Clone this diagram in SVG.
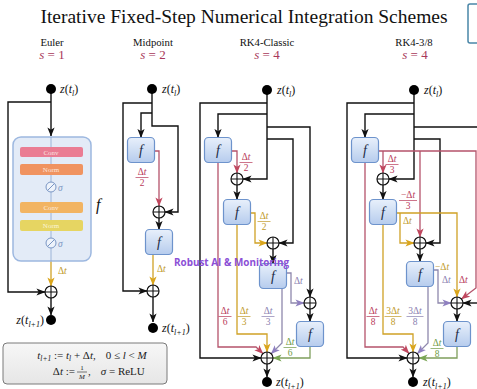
<svg xmlns="http://www.w3.org/2000/svg" width="477" height="389" viewBox="0 0 477 389">
<style>
.ttl{font-family:"Liberation Serif",serif;font-size:19.5px;fill:#111}
.hd{font-family:"Liberation Serif",serif;font-size:10.7px;fill:#111;text-anchor:middle}
.sv{font-family:"Liberation Serif",serif;font-size:13px;fill:#a8385a;text-anchor:middle}
.lb{font-family:"Liberation Serif",serif;font-size:12px;fill:#111}
.it{font-style:italic}
.fr{font-family:"Liberation Serif",serif;font-size:9.5px;text-anchor:middle}
.sl{font-family:"Liberation Serif",serif;font-size:9.5px}
.k{fill:none;stroke:#111;stroke-width:1.4}
.r{fill:none;stroke:#b5536b;stroke-width:1.3}
.g{fill:none;stroke:#cfa126;stroke-width:1.3}
.p{fill:none;stroke:#8f88ad;stroke-width:1.3}
.gr{fill:none;stroke:#7f9f5c;stroke-width:1.3}
.tr{fill:#b83a5a}.tg{fill:#c09a2a}.tp{fill:#8a80b0}.tgr{fill:#6f9a45}
.fb{fill:url(#fg);stroke:#6d93cc;stroke-width:1.2}
.ft{font-family:"Liberation Serif",serif;font-style:italic;font-size:14px;fill:#1b2a44;text-anchor:middle}
.op circle{fill:#fff;stroke:#111;stroke-width:1.2}
.op path{stroke:#111;stroke-width:1.1}
.dot{fill:#000}
.bar{font-family:"Liberation Serif",serif;font-size:7px;fill:#fff4ee;text-anchor:middle;opacity:.85}
.fm{font-family:"Liberation Serif",serif;font-size:11px;fill:#222}
</style>
<defs>
<linearGradient id="fg" x1="0" y1="0" x2="0" y2="1"><stop offset="0" stop-color="#e8f0fb"/><stop offset="1" stop-color="#b6cced"/></linearGradient>
<linearGradient id="bg" x1="0" y1="0" x2="0" y2="1"><stop offset="0" stop-color="#f7f7f7"/><stop offset="1" stop-color="#e6e6e6"/></linearGradient>
<marker id="ak" viewBox="0 0 10 8" refX="9.5" refY="4" markerWidth="9" markerHeight="8" orient="auto" markerUnits="userSpaceOnUse"><path d="M0,0 L10,4 L0,8 L2.5,4 Z" fill="#111"/></marker>
<marker id="ar" viewBox="0 0 10 8" refX="9.5" refY="4" markerWidth="9" markerHeight="8" orient="auto" markerUnits="userSpaceOnUse"><path d="M0,0 L10,4 L0,8 L2.5,4 Z" fill="#c0485f"/></marker>
<marker id="ag" viewBox="0 0 10 8" refX="9.5" refY="4" markerWidth="9" markerHeight="8" orient="auto" markerUnits="userSpaceOnUse"><path d="M0,0 L10,4 L0,8 L2.5,4 Z" fill="#daa51c"/></marker>
<marker id="ap" viewBox="0 0 10 8" refX="9.5" refY="4" markerWidth="9" markerHeight="8" orient="auto" markerUnits="userSpaceOnUse"><path d="M0,0 L10,4 L0,8 L2.5,4 Z" fill="#8f80c0"/></marker>
<marker id="agr" viewBox="0 0 10 8" refX="9.5" refY="4" markerWidth="9" markerHeight="8" orient="auto" markerUnits="userSpaceOnUse"><path d="M0,0 L10,4 L0,8 L2.5,4 Z" fill="#7aa655"/></marker>
<g id="oplus" class="op"><circle r="6"/><path d="M-6,0H6M0,-6V6"/></g>
<g id="fbox"><rect class="fb" x="-13.5" y="-12.5" width="27" height="25" rx="4"/><text class="ft" y="5">f</text></g>
<g id="sig"><circle r="5" fill="#eef3fb" stroke="#7a96c4" stroke-width="1"/><path d="M-3.5,3.5L3.5,-3.5" stroke="#7a96c4" stroke-width="1"/></g>
</defs>

<rect width="477" height="389" fill="#fff"/>

<text class="ttl" x="244" y="23" text-anchor="middle">Iterative Fixed-Step Numerical Integration Schemes</text>
<rect x="468" y="4" width="20" height="39" rx="2" fill="#fff" stroke="#4a86a8" stroke-width="1.5"/>

<g id="headers">
<text class="hd" x="52" y="46">Euler</text>
<text class="sv" x="52" y="59"><tspan class="it">s</tspan> = 1</text>
<text class="hd" x="153" y="46">Midpoint</text>
<text class="sv" x="153" y="59"><tspan class="it">s</tspan> = 2</text>
<text class="hd" x="267" y="46">RK4-Classic</text>
<text class="sv" x="267" y="59"><tspan class="it">s</tspan> = 4</text>
<text class="hd" x="414" y="46">RK4-3/8</text>
<text class="sv" x="415" y="59"><tspan class="it">s</tspan> = 4</text>
</g>

<!-- ===================== CONNECTORS ===================== -->
<g id="connectors">
<!-- Euler -->
<path class="k" d="M51,89V136" marker-end="url(#ak)"/>
<path class="k" d="M51,102H8V292H45" marker-end="url(#ak)"/>
<path class="g" d="M51,261V286" marker-end="url(#ag)"/>
<path class="k" d="M51,298V315" marker-end="url(#ak)"/>

<!-- Midpoint -->
<path class="k" d="M152,89V126H178V212H165" marker-end="url(#ak)"/>
<path class="k" d="M152,103H123V291H147" marker-end="url(#ak)"/>
<path class="k" d="M152,113H141V137.5" marker-end="url(#ak)"/>
<path class="r" d="M154.5,151H159V206" marker-end="url(#ar)"/>
<path class="k" d="M159,218V229.5" marker-end="url(#ak)"/>
<path class="g" d="M153,254.5V285" marker-end="url(#ag)"/>
<path class="k" d="M153,297V322" marker-end="url(#ak)"/>

<!-- RK4 classic -->
<path class="k" d="M267,89V179H243" marker-end="url(#ak)"/>
<path class="k" d="M267,103H200V358H261" marker-end="url(#ak)"/>
<path class="k" d="M267,114H218V137.5" marker-end="url(#ak)"/>
<path class="k" d="M267,127H310V297" marker-end="url(#ak)"/>
<path class="k" d="M267,139H293V243H279" marker-end="url(#ak)"/>
<path class="r" d="M231.5,151H237V173" marker-end="url(#ar)"/>
<path class="r" d="M218,162.5V347H256L263,353.6" marker-end="url(#ar)"/>
<path class="k" d="M237,185V199.5" marker-end="url(#ak)"/>
<path class="g" d="M250.5,213H255V243H267" marker-end="url(#ag)"/>
<path class="g" d="M237,224.5V334H267V352" marker-end="url(#ag)"/>
<path class="k" d="M273,249V263.5" marker-end="url(#ak)"/>
<path class="p" d="M286.5,273H291V303H304" marker-end="url(#ap)"/>
<path class="p" d="M282,288.5V343L271.2,353.8" marker-end="url(#ap)"/>
<path class="k" d="M310,309V321.5" marker-end="url(#ak)"/>
<path class="gr" d="M310,346.5V358H273" marker-end="url(#agr)"/>
<path class="k" d="M267,364V377" marker-end="url(#ak)"/>

<!-- RK4 3/8 -->
<path class="k" d="M414,89V179H389" marker-end="url(#ak)"/>
<path class="k" d="M414,103H347V358H407" marker-end="url(#ak)"/>
<path class="k" d="M414,114H365V137.5" marker-end="url(#ak)"/>
<path class="k" d="M414,127H480"/>
<path class="k" d="M480,303H463" marker-end="url(#ak)"/>
<path class="k" d="M414,139H440V243H426" marker-end="url(#ak)"/>
<path class="r" d="M378.5,151H476V288L461.5,299" marker-end="url(#ar)"/>
<path class="r" d="M383,151V173" marker-end="url(#ar)"/>
<path class="r" d="M420,151V237" marker-end="url(#ar)"/>
<path class="r" d="M365,162.5V347H403L409,353.5" marker-end="url(#ar)"/>
<path class="k" d="M383,185V199.5" marker-end="url(#ak)"/>
<path class="g" d="M396.5,213H457V297" marker-end="url(#ag)"/>
<path class="g" d="M400,213V243H414" marker-end="url(#ag)"/>
<path class="g" d="M383,224.5V334H413V352" marker-end="url(#ag)"/>
<path class="k" d="M420,249V261.5" marker-end="url(#ak)"/>
<path class="p" d="M433.5,270H438V303H451" marker-end="url(#ap)"/>
<path class="p" d="M428,286.5V343L417.4,353.6" marker-end="url(#ap)"/>
<path class="k" d="M457,309V321.5" marker-end="url(#ak)"/>
<path class="gr" d="M457,346.5V358H419" marker-end="url(#agr)"/>
<path class="k" d="M413,364V377" marker-end="url(#ak)"/>
</g>

<!-- ===================== NODES ===================== -->
<!-- Euler -->
<g id="e-zin"><circle class="dot" cx="51" cy="89" r="5"/>
<text class="lb" x="60" y="93"><tspan class="it">z</tspan>(<tspan class="it">t</tspan><tspan class="it" font-size="8" dy="2.5">l</tspan><tspan dy="-2.5">)</tspan></text></g>
<g id="e-f">
<rect x="13" y="137" width="78" height="124" rx="8" fill="#e3ebf7" stroke="#9db8e0" stroke-width="1.5"/>
<path d="M51,137V261" stroke="#8aa6d0" stroke-width="0.8"/>
<rect x="20" y="147" width="63" height="10" rx="2" fill="#ea7c93"/><text class="bar" x="51" y="154.5">Conv</text>
<rect x="20" y="164" width="63" height="11" rx="2" fill="#f09360"/><text class="bar" x="51" y="172">Norm</text>
<use href="#sig" x="51" y="187"/><text class="sl" x="58" y="191" fill="#7a96c4" font-style="italic">σ</text>
<rect x="20" y="202" width="63" height="11" rx="2" fill="#f2b462"/><text class="bar" x="51" y="210">Conv</text>
<rect x="20" y="220" width="63" height="11" rx="2" fill="#e6d562"/><text class="bar" x="51" y="228" style="fill:#fffbe8">Norm</text>
<use href="#sig" x="51" y="243"/><text class="sl" x="58" y="247" fill="#7a96c4" font-style="italic">σ</text>
<text x="96" y="210" font-family="Liberation Serif,serif" font-style="italic" font-size="16" fill="#111">f</text>
</g>
<text class="sl tg" x="58" y="274">Δ<tspan class="it">t</tspan></text>
<g id="e-sum"><use href="#oplus" x="51" y="292"/></g>
<g id="e-zout"><circle class="dot" cx="51" cy="320" r="5"/>
<text class="lb" x="44" y="324" text-anchor="end"><tspan class="it">z</tspan>(<tspan class="it">t</tspan><tspan class="it" font-size="8" dy="2.5">l+1</tspan><tspan dy="-2.5">)</tspan></text></g>

<g id="formula">
<rect x="3" y="343" width="164" height="41" rx="4" fill="url(#bg)" stroke="#7a7a7a" stroke-width="1"/>
<text class="fm" x="92" y="359" text-anchor="middle"><tspan class="it">t</tspan><tspan class="it" font-size="7.5" dy="2">l+1</tspan><tspan dy="-2"> := </tspan><tspan class="it">t</tspan><tspan class="it" font-size="7.5" dy="2">l</tspan><tspan dy="-2"> + Δ</tspan><tspan class="it">t</tspan>,<tspan dx="10">0 ≤ </tspan><tspan class="it">l</tspan> &lt; <tspan class="it">M</tspan></text>
<text class="fm" x="75" y="375" text-anchor="end">Δ<tspan class="it">t</tspan> :=</text>
<text x="82" y="370" text-anchor="middle" font-family="Liberation Serif,serif" font-size="7" fill="#222">1</text>
<path d="M77,372H87" stroke="#222" stroke-width="0.6"/>
<text x="82" y="379" text-anchor="middle" font-family="Liberation Serif,serif" font-size="7" fill="#222" font-style="italic">M</text>
<text class="fm" x="88" y="375">,<tspan dx="10" class="it">σ</tspan> = ReLU</text>
</g>

<!-- Midpoint -->
<g id="m-zin"><circle class="dot" cx="152" cy="89" r="5"/>
<text class="lb" x="162" y="93"><tspan class="it">z</tspan>(<tspan class="it">t</tspan><tspan class="it" font-size="8" dy="2.5">l</tspan><tspan dy="-2.5">)</tspan></text></g>
<g id="m-f1"><use href="#fbox" x="141" y="150"/></g>
<g id="m-s1"><use href="#oplus" x="159" y="212"/></g>
<g id="m-f2"><use href="#fbox" x="159" y="242"/></g>
<g id="m-s2"><use href="#oplus" x="153" y="291"/></g>
<g id="m-zout"><circle class="dot" cx="153" cy="328" r="5"/>
<text class="lb" x="162" y="332"><tspan class="it">z</tspan>(<tspan class="it">t</tspan><tspan class="it" font-size="8" dy="2.5">l+1</tspan><tspan dy="-2.5">)</tspan></text></g>
<g class="tr"><text class="fr" x="142" y="175">Δ<tspan class="it">t</tspan></text><rect x="135.5" y="177" width="13" height="0.7"/><text class="fr" x="142" y="185.5">2</text></g>
<text class="sl tg" x="157" y="272">Δ<tspan class="it">t</tspan></text>

<!-- RK4 classic -->
<g id="c-zin"><circle class="dot" cx="267" cy="90" r="5"/>
<text class="lb" x="277" y="94"><tspan class="it">z</tspan>(<tspan class="it">t</tspan><tspan class="it" font-size="8" dy="2.5">l</tspan><tspan dy="-2.5">)</tspan></text></g>
<g id="c-f1"><use href="#fbox" x="218" y="150"/></g>
<g id="c-s1"><use href="#oplus" x="237" y="179"/></g>
<g id="c-f2"><use href="#fbox" x="237" y="212"/></g>
<g id="c-s2"><use href="#oplus" x="273" y="243"/></g>
<g id="c-f3"><use href="#fbox" x="273" y="276"/></g>
<g id="c-s3"><use href="#oplus" x="310" y="303"/></g>
<g id="c-f4"><use href="#fbox" x="310" y="334"/></g>
<g id="c-sum"><use href="#oplus" x="267" y="358"/></g>
<g id="c-zout"><circle class="dot" cx="267" cy="382" r="5"/>
<text class="lb" x="276" y="386"><tspan class="it">z</tspan>(<tspan class="it">t</tspan><tspan class="it" font-size="8" dy="2.5">l+1</tspan><tspan dy="-2.5">)</tspan></text></g>
<g class="tr"><text class="fr" x="246" y="160">Δ<tspan class="it">t</tspan></text><rect x="239.5" y="162" width="13" height="0.7"/><text class="fr" x="246" y="170.5">2</text></g>
<g class="tg"><text class="fr" x="264" y="219">Δ<tspan class="it">t</tspan></text><rect x="257.5" y="221" width="13" height="0.7"/><text class="fr" x="264" y="229.5">2</text></g>
<text class="sl tp" x="294" y="284">Δ<tspan class="it">t</tspan></text>
<g class="tr"><text class="fr" x="225" y="314">Δ<tspan class="it">t</tspan></text><rect x="218.5" y="316" width="13" height="0.7"/><text class="fr" x="225" y="324.5">6</text></g>
<g class="tg"><text class="fr" x="244" y="314">Δ<tspan class="it">t</tspan></text><rect x="237.5" y="316" width="13" height="0.7"/><text class="fr" x="244" y="324.5">3</text></g>
<g class="tp"><text class="fr" x="268" y="314">Δ<tspan class="it">t</tspan></text><rect x="261.5" y="316" width="13" height="0.7"/><text class="fr" x="268" y="324.5">3</text></g>
<g class="tgr"><text class="fr" x="290" y="345">Δ<tspan class="it">t</tspan></text><rect x="283.5" y="347" width="13" height="0.7"/><text class="fr" x="290" y="355.5">6</text></g>

<!-- RK4 3/8 -->
<g id="t-zin"><circle class="dot" cx="414" cy="90" r="5"/>
<text class="lb" x="424" y="94"><tspan class="it">z</tspan>(<tspan class="it">t</tspan><tspan class="it" font-size="8" dy="2.5">l</tspan><tspan dy="-2.5">)</tspan></text></g>
<g id="t-f1"><use href="#fbox" x="365" y="150"/></g>
<g id="t-s1"><use href="#oplus" x="383" y="179"/></g>
<g id="t-f2"><use href="#fbox" x="383" y="212"/></g>
<g id="t-s2"><use href="#oplus" x="420" y="243"/></g>
<g id="t-f3"><use href="#fbox" x="420" y="274"/></g>
<g id="t-s3"><use href="#oplus" x="457" y="303"/></g>
<g id="t-f4"><use href="#fbox" x="457" y="334"/></g>
<g id="t-sum"><use href="#oplus" x="413" y="358"/></g>
<g id="t-zout"><circle class="dot" cx="413" cy="382" r="5"/>
<text class="lb" x="423" y="386"><tspan class="it">z</tspan>(<tspan class="it">t</tspan><tspan class="it" font-size="8" dy="2.5">l+1</tspan><tspan dy="-2.5">)</tspan></text></g>
<g class="tr"><text class="fr" x="392" y="162">Δ<tspan class="it">t</tspan></text><rect x="385.5" y="164" width="13" height="0.7"/><text class="fr" x="392" y="172.5">3</text></g>
<g class="tr"><text class="fr" x="408" y="198">−Δ<tspan class="it">t</tspan></text><rect x="399" y="200" width="18" height="0.7"/><text class="fr" x="408" y="208.5">3</text></g>
<text class="sl tg" x="403" y="224">Δ<tspan class="it">t</tspan></text>
<text class="sl tg" x="435" y="270">−Δ<tspan class="it">t</tspan></text>
<text class="sl tp" x="442" y="283">Δ<tspan class="it">t</tspan></text>
<text class="sl tr" x="459" y="283">Δ<tspan class="it">t</tspan></text>
<g class="tr"><text class="fr" x="373" y="314">Δ<tspan class="it">t</tspan></text><rect x="366.5" y="316" width="13" height="0.7"/><text class="fr" x="373" y="324.5">8</text></g>
<g class="tg"><text class="fr" x="393" y="314">3Δ<tspan class="it">t</tspan></text><rect x="384.5" y="316" width="17" height="0.7"/><text class="fr" x="393" y="324.5">8</text></g>
<g class="tp"><text class="fr" x="415" y="314">3Δ<tspan class="it">t</tspan></text><rect x="406.5" y="316" width="17" height="0.7"/><text class="fr" x="415" y="324.5">8</text></g>
<g class="tgr"><text class="fr" x="437" y="346">Δ<tspan class="it">t</tspan></text><rect x="430.5" y="348" width="13" height="0.7"/><text class="fr" x="437" y="356.5">8</text></g>

<text x="174" y="266" font-family="Open Sans,Liberation Sans,sans-serif" font-weight="bold" font-size="11" fill="#8b4fd6" textLength="115" lengthAdjust="spacingAndGlyphs">Robust AI &amp; Monitoring</text>
</svg>
